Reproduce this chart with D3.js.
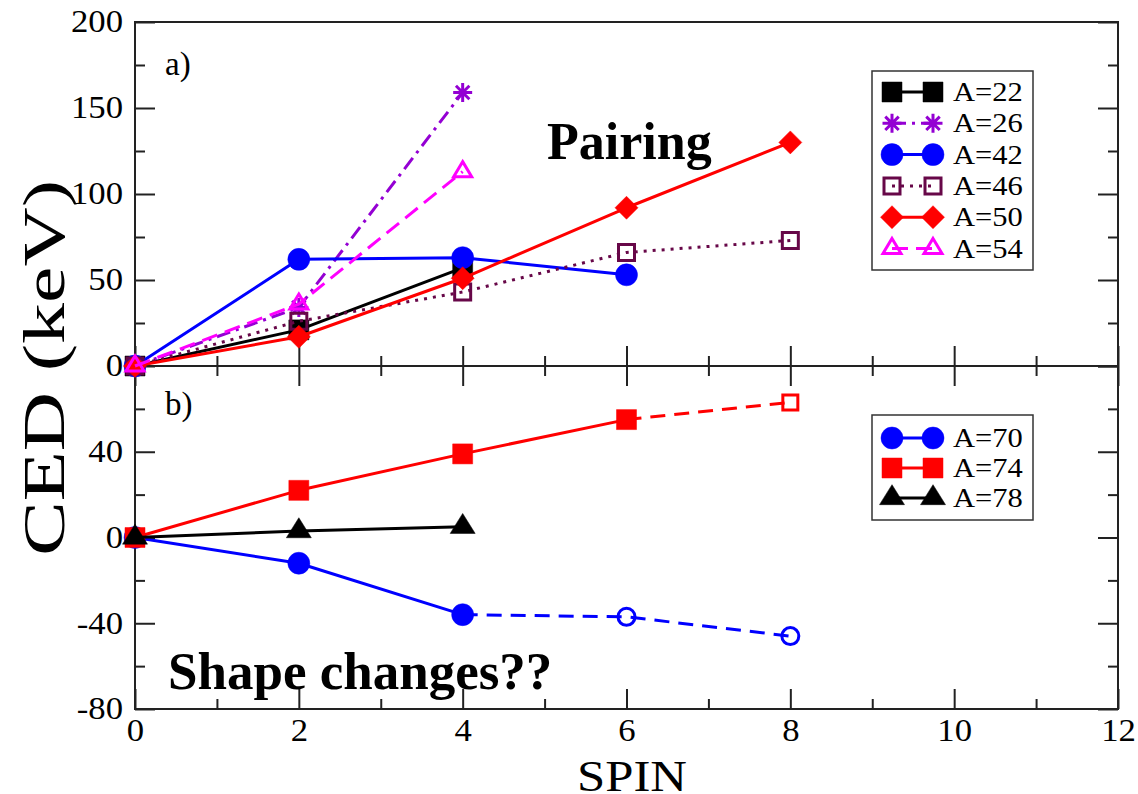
<!DOCTYPE html>
<html>
<head>
<meta charset="utf-8">
<script src="https://cdn.jsdelivr.net/npm/d3@7"></script>
<style>
  html, body { margin: 0; padding: 0; background: #fff; }
  svg { display: block; }
  text { font-family: "Liberation Serif", "Times New Roman", serif; fill: #000; }
</style>
</head>
<body>
<svg id="chart" width="1138" height="794"></svg>
<script>
// Spin values shared by every series
const spins = [0, 2, 4, 6, 8];

// Panel a): CED (keV) per mass number
const a22 = [0, 21, 57];
const a26 = [0, 34, 159];
const a42 = [0, 62, 63, 53];
const a46 = [0, 26, 43, 66, 73];
const a50 = [0, 17, 51, 92, 130];
const a54 = [0, 36, 113];

// Panel b): CED (keV) per mass number
const a70 = [0, -12, -36, -37, -46];
const a74 = [0, 22, 39, 55, 63];
const a78 = [0, 3, 5];
// index from which panel b) points are open symbols joined by a dashed line
const a70OpenFrom = 3;
const a74OpenFrom = 4;

// Axis ticks
const xTicks = [0, 2, 4, 6, 8, 10, 12];
const yTicksA = [0, 50, 100, 150, 200];
const yTicksB = [-80, -40, 0, 40];

const svg = d3.select("#chart");

const x = d3.scaleLinear().domain([0, 12]).range([135, 1118]);
const yA = d3.scaleLinear().domain([0, 200]).range([366, 22]);
const yB = d3.scaleLinear().domain([-80, 80]).range([709, 366]);

const AX = "#222";

// stretch text horizontally (wide Times look)
function widen(sel, k) {
  sel.each(function () {
    const L = this.getComputedTextLength();
    this.setAttribute("textLength", L * k);
    this.setAttribute("lengthAdjust", "spacingAndGlyphs");
  });
}

// ---------- symbols ----------
function symPath(s) {
  if (s.sym === "circle") {
    const p = d3.path(); p.arc(0, 0, s.r, 0, 2 * Math.PI); p.closePath(); return p.toString();
  }
  if (s.sym === "square") {
    const r = s.r; return `M${-r},${-r}H${r}V${r}H${-r}Z`;
  }
  if (s.sym === "diamond") {
    const r = s.r; return `M0,${-r}L${r},0L0,${r}L${-r},0Z`;
  }
  if (s.sym === "triangle") {
    const w = s.w / 2, h = s.h;
    return `M0,${-2 * h / 3}L${w},${h / 3}L${-w},${h / 3}Z`;
  }
  if (s.sym === "star") {
    const r = s.r, d = r * Math.SQRT1_2;
    return `M0,${-r}V${r}M${-r},0H${r}M${-d},${-d}L${d},${d}M${-d},${d}L${d},${-d}`;
  }
}

function drawMarker(g, s, cx, cy, open) {
  const filled = s.fill && !open;
  g.append("path")
    .attr("d", symPath(open && s.openSym ? s.openSym : s))
    .attr("transform", `translate(${cx},${cy})`)
    .attr("fill", filled ? s.color : "none")
    .attr("stroke", s.color)
    .attr("stroke-width", filled ? 0.5 : 3)
    .attr("stroke-linejoin", "miter");
}

// ---------- series ----------
const seriesA = [
  { name: "A=22", v: a22, color: "#000000", dash: null,        sym: "square",   r: 10,  fill: true },
  { name: "A=26", v: a26, color: "#9400d3", dash: "14,6,3,6",  sym: "star",     r: 9.5, fill: false },
  { name: "A=42", v: a42, color: "#0000ff", dash: null,        sym: "circle",   r: 11,  fill: true },
  { name: "A=46", v: a46, color: "#670748", dash: "3,6",       sym: "square",   r: 8,   fill: false },
  { name: "A=50", v: a50, color: "#ff0000", dash: null,        sym: "diamond",  r: 11.5, fill: true },
  { name: "A=54", v: a54, color: "#ff00ff", dash: "16,8",      sym: "triangle", w: 18, h: 15, fill: false }
];

const seriesB = [
  { name: "A=70", v: a70, openFrom: a70OpenFrom, color: "#0000ff", sym: "circle", r: 11, fill: true,
    openSym: { sym: "circle", r: 8.5 } },
  { name: "A=74", v: a74, openFrom: a74OpenFrom, color: "#ff0000", sym: "square", r: 10, fill: true,
    openSym: { sym: "square", r: 7.5 } },
  { name: "A=78", v: a78, color: "#000000", sym: "triangle", w: 25, h: 20, fill: true }
];

const pts = v => v.map((d, i) => [spins[i], d]);

// ---------- frames ----------
svg.append("rect").attr("x", x(0)).attr("y", yA(200)).attr("width", x(12) - x(0)).attr("height", yA(0) - yA(200))
  .attr("fill", "none").attr("stroke", AX).attr("stroke-width", 2);
svg.append("rect").attr("x", x(0)).attr("y", yB(80)).attr("width", x(12) - x(0)).attr("height", yB(-80) - yB(80))
  .attr("fill", "none").attr("stroke", AX).attr("stroke-width", 2);

// ---------- ticks ----------
function tickAxis(gen, values, size, tr, fmt) {
  const g = svg.append("g").attr("transform", tr)
    .call(gen.tickValues(values).tickSize(-size).tickSizeOuter(0).tickPadding(fmt ? 12 : 0)
      .tickFormat(fmt || (() => "")));
  g.attr("font-family", null).attr("font-size", null);
  g.select(".domain").remove();
  g.selectAll("line").attr("stroke", AX).attr("stroke-width", 2);
  return g;
}
const xMinor = d3.range(1, 12, 2);
const yMinorA = [25, 75, 125, 175];
const yMinorB = [-60, -20, 20, 60];

// panel a) y ticks, left with labels and mirrored on the right
const gyA = tickAxis(d3.axisLeft(yA), yTicksA, 20, `translate(${x(0)},0)`, d => String(d));
tickAxis(d3.axisLeft(yA), yMinorA, 10, `translate(${x(0)},0)`);
tickAxis(d3.axisRight(yA), yTicksA, 20, `translate(${x(12)},0)`);
tickAxis(d3.axisRight(yA), yMinorA, 10, `translate(${x(12)},0)`);
// panel a) x ticks along its bottom edge
tickAxis(d3.axisBottom(x), xTicks, 20, `translate(0,${yA(0)})`);
tickAxis(d3.axisBottom(x), xMinor, 10, `translate(0,${yA(0)})`);

// panel b) y ticks
const gyB = tickAxis(d3.axisLeft(yB), yTicksB, 20, `translate(${x(0)},0)`, d => String(d));
tickAxis(d3.axisLeft(yB), yMinorB, 10, `translate(${x(0)},0)`);
tickAxis(d3.axisRight(yB), yTicksB.concat([80]), 20, `translate(${x(12)},0)`);
tickAxis(d3.axisRight(yB), yMinorB, 10, `translate(${x(12)},0)`);
// panel b) x ticks, top and bottom
tickAxis(d3.axisTop(x), xTicks, 20, `translate(0,${yB(80)})`);
tickAxis(d3.axisTop(x), xMinor, 10, `translate(0,${yB(80)})`);
const gx = tickAxis(d3.axisBottom(x), xTicks, 20, `translate(0,${yB(-80)})`, d => String(d));
tickAxis(d3.axisBottom(x), xMinor, 10, `translate(0,${yB(-80)})`);

gx.selectAll(".tick text").attr("y", 10);
[gyA, gyB, gx].forEach(g => {
  g.selectAll(".tick text").attr("font-size", 31).attr("fill", "#000")
    .style("font-family", '"Liberation Serif", serif');
  widen(g.selectAll(".tick text"), 1.12);
});

// ---------- data ----------
const line = (yS) => d3.line().x(d => x(d[0])).y(d => yS(d[1]));

const gA = svg.append("g");
seriesA.forEach(s => {
  const p = pts(s.v);
  gA.append("path").attr("d", line(yA)(p)).attr("fill", "none")
    .attr("stroke", s.color).attr("stroke-width", 3)
    .attr("stroke-dasharray", s.dash).attr("stroke-linejoin", "round");
  p.forEach(d => drawMarker(gA, s, x(d[0]), yA(d[1]), false));
});

const gB = svg.append("g");
seriesB.forEach(s => {
  const p = pts(s.v);
  const cut = s.openFrom == null ? p.length : s.openFrom;
  gB.append("path").attr("d", line(yB)(p.slice(0, cut))).attr("fill", "none")
    .attr("stroke", s.color).attr("stroke-width", 3).attr("stroke-linejoin", "round");
  if (cut < p.length) {
    gB.append("path").attr("d", line(yB)(p.slice(cut - 1))).attr("fill", "none")
      .attr("stroke", s.color).attr("stroke-width", 3).attr("stroke-dasharray", "15,9");
  }
  p.forEach((d, i) => drawMarker(gB, s, x(d[0]), yB(d[1]), i >= cut));
});

// ---------- legends ----------
function legend(series, box, rows) {
  const g = svg.append("g");
  g.append("rect").attr("x", box[0]).attr("y", box[1]).attr("width", box[2]).attr("height", box[3])
    .attr("fill", "#fff").attr("stroke", "#333").attr("stroke-width", 1.5);
  series.forEach((s, i) => {
    const cy = rows[0] + i * rows[1];
    g.append("line").attr("x1", 892).attr("x2", 933).attr("y1", cy).attr("y2", cy)
      .attr("stroke", s.color).attr("stroke-width", 3).attr("stroke-dasharray", s.dash || null);
    drawMarker(g, s, 892, cy, false);
    drawMarker(g, s, 933, cy, false);
    const t = g.append("text").attr("x", 953).attr("y", cy + 9).attr("font-size", 27).text(s.name);
    widen(t, 1.13);
  });
}
legend(seriesA, [872, 71, 161, 199], [92, 31.3]);
legend(seriesB, [872, 415, 161, 105], [438, 30]);

// ---------- labels ----------
svg.append("text").attr("transform", "translate(64,368) rotate(-90)")
  .attr("text-anchor", "middle").attr("font-size", 60)
  .attr("textLength", 376).attr("lengthAdjust", "spacingAndGlyphs")
  .text("CED (keV)");

svg.append("text").attr("x", 632).attr("y", 791).attr("text-anchor", "middle")
  .attr("font-size", 44).attr("textLength", 110).attr("lengthAdjust", "spacingAndGlyphs")
  .text("SPIN");

svg.append("text").attr("x", 165).attr("y", 75).attr("font-size", 33).text("a)");
svg.append("text").attr("x", 165).attr("y", 415).attr("font-size", 33).text("b)");

svg.append("text").attr("x", 547).attr("y", 159).attr("font-size", 52).attr("font-weight", "bold").text("Pairing");
svg.append("text").attr("x", 168).attr("y", 689).attr("font-size", 53).attr("font-weight", "bold").text("Shape changes??");
</script>
</body>
</html>
